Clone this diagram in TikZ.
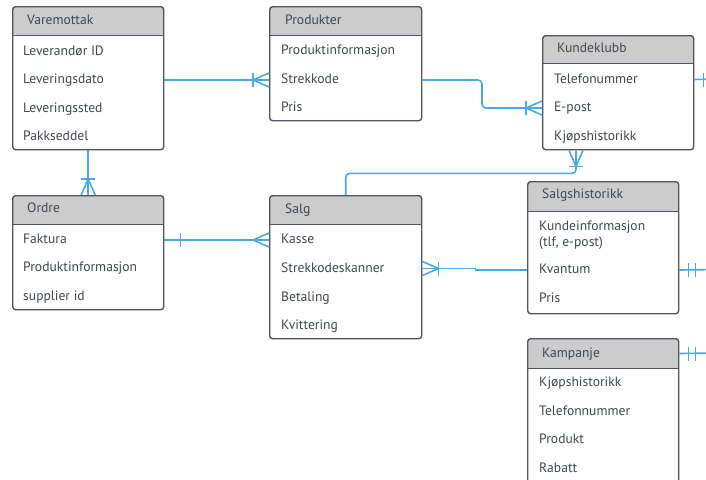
\documentclass[tikz,border=0pt]{standalone}
\usepackage{fontspec}
\setmainfont{PT Sans}
\usetikzlibrary{calc}

\begin{document}
\begin{tikzpicture}[x=1pt, y=-1pt,
  entity/.style={draw=frame, line width=1.4pt, rounded corners=3pt, fill=white, anchor=north west, inner sep=0pt,
    path picture={\fill[head, sharp corners] (path picture bounding box.north west) rectangle ([yshift=-#1]path picture bounding box.north east);
      \draw[frame, line width=1.4pt, sharp corners] ([yshift=-#1]path picture bounding box.north west) -- ([yshift=-#1]path picture bounding box.north east);}},
  attr/.style={anchor=west, inner sep=0pt, text=ink, text height=10pt, text depth=2.8pt, font=\fontsize{13.6}{17}\selectfont},
  rel/.style={draw=link, line width=1.6pt},
  crowbar/.pic={\draw[rel] (0,-7) -- (-16,0) -- (0,7); \draw[rel] (-16,-7) -- (-16,7);},
  crow/.pic={\draw[rel] (0,-7) -- (-16,0) -- (0,7);},
  bar/.pic={\draw[rel] (-#1,-7) -- (-#1,7);},
  twobar/.pic={\draw[rel] (-9,-7) -- (-9,7); \draw[rel] (-16,-7) -- (-16,7);}
]
\definecolor{frame}{HTML}{4E5560}
\definecolor{head}{HTML}{CCCCCC}
\definecolor{ink}{HTML}{40474F}
\definecolor{link}{HTML}{4BA9E0}
\useasboundingbox (0,0) rectangle (706,479);
\clip (0,0) rectangle (706,479);

%Entities:
\node[entity=29pt, minimum width=151pt, minimum height=143pt] (varemottak) at (12,6) {};
\node[attr] (vmt) at (27,21) {Varemottak};
\node[attr] (vm1) at (23,51.5) {Leverandør ID};
\node[attr] (vm2) at (23,80) {Leveringsdato};
\node[attr] (vm3) at (23,108.5) {Leveringssted};
\node[attr] (vm4) at (23,137) {Pakkseddel};

\node[entity=29pt, minimum width=152pt, minimum height=114pt] (produkter) at (269,6) {};
\node[attr] (prt) at (285,21) {Produkter};
\node[attr] (pr1) at (281,51) {Produktinformasjon};
\node[attr] (pr2) at (281,80) {Strekkode};
\node[attr] (pr3) at (281,108) {Pris};

\node[entity=28pt, minimum width=151pt, minimum height=114pt] (kundeklubb) at (542,35) {};
\node[attr] (kkt) at (557,49) {Kundeklubb};
\node[attr] (kk1) at (554,79.5) {Telefonummer};
\node[attr] (kk2) at (554,108) {E-post};
\node[attr] (kk3) at (554,137) {Kjøpshistorikk};

\node[entity=29pt, minimum width=151pt, minimum height=114pt] (ordre) at (12,195) {};
\node[attr] (ort) at (27,209) {Ordre};
\node[attr] (or1) at (23,240) {Faktura};
\node[attr] (or2) at (23,268) {Produktinformasjon};
\node[attr] (or3) at (23,297) {supplier id};

\node[entity=29pt, minimum width=152pt, minimum height=143pt] (salg) at (269,195) {};
\node[attr] (sat) at (285,210) {Salg};
\node[attr] (sa1) at (281,240) {Kasse};
\node[attr] (sa2) at (281,268.5) {Strekkodeskanner};
\node[attr] (sa3) at (281,297.5) {Betaling};
\node[attr] (sa4) at (281,326) {Kvittering};

\node[entity=30pt, minimum width=151pt, minimum height=132pt] (salgshistorikk) at (527,181) {};
\node[attr] (sht) at (542,195) {Salgshistorikk};
\node[attr, anchor=base west, text height={}, text depth={}, align=left, font=\fontsize{13.6}{16.5}\selectfont] (sh1) at (539,246.5) {Kundeinformasjon\\(tlf, e-post)};
\node[attr] (sh3) at (539,270) {Kvantum};
\node[attr] (sh4) at (539,299) {Pris};

\node[entity=30pt, minimum width=151pt, minimum height=180pt] (kampanje) at (527,338) {};
\node[attr] (kmt) at (542,353.5) {Kampanje};
\node[attr] (km1) at (539,383) {Kjøpshistorikk};
\node[attr] (km2) at (539,411.5) {Telefonnummer};
\node[attr] (km3) at (539,440) {Produkt};
\node[attr] (km4) at (539,468.5) {Rabatt};

%Free ends:
\coordinate (kkout) at (720,79);
\coordinate (shout) at (720,269.5);
\coordinate (kmout) at (720,353);
\coordinate (kkfoot) at ($(kundeklubb.south west)+(34,0)$);

%Relations:
\draw[rel] (vm2 -| varemottak.east) -- (pr2 -| produkter.west);
\pic at (pr2 -| produkter.west) {crowbar};
\draw[rel, rounded corners=4pt] (pr2 -| produkter.east) -| ($(kk2 -| kundeklubb.west)+(-60,0)$) -- (kk2 -| kundeklubb.west);
\pic at (kk2 -| kundeklubb.west) {crowbar};
\draw[rel] (varemottak.south) -- (ordre.north);
\pic[rotate=-90] at (ordre.north) {crowbar};
\draw[rel] (or1 -| ordre.east) -- (sa1 -| salg.west);
\pic[rotate=180] at (or1 -| ordre.east) {bar=16};
\pic at (sa1 -| salg.west) {crow};
\draw[rel, rounded corners=4pt] (salg.north) |- ($(kkfoot)+(0,23)$) -- (kkfoot);
\pic[rotate=90] at (kkfoot) {crowbar};
\draw[rel] (sa2 -| salg.east) -- ++(53,0) |- (sh3 -| salgshistorikk.west);
\pic[rotate=180] at (sa2 -| salg.east) {crowbar};
\draw[rel] (kk1 -| kundeklubb.east) -- (kkout);
\pic[rotate=180] at (kk1 -| kundeklubb.east) {bar=9};
\draw[rel] (sh3 -| salgshistorikk.east) -- (shout);
\pic[rotate=180] at (sh3 -| salgshistorikk.east) {twobar};
\draw[rel] (kmt -| kampanje.east) -- (kmout);
\pic[rotate=180] at (kmt -| kampanje.east) {twobar};
\end{tikzpicture}
\end{document}
